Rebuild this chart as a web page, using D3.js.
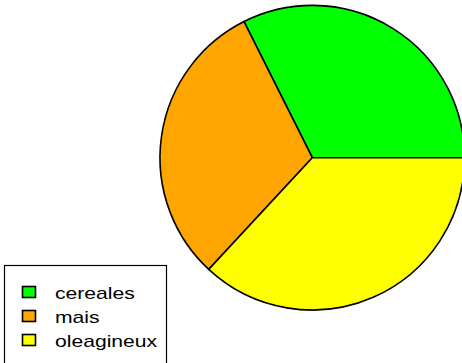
<!DOCTYPE html>
<html>
<head>
<meta charset="utf-8">
<script src="https://cdn.jsdelivr.net/npm/d3@7"></script>
<style>
  html, body { margin: 0; padding: 0; background: #fff; }
  svg { display: block; }
</style>
</head>
<body>
<div id="chart"></div>
<script>
// parts of the pie
const categories = ["cereales", "mais", "oleagineux"];
const values = [32.4, 30.7, 36.9];
const sliceColors = ["#00ff00", "#ffa500", "#ffff00"];

(() => {
    const width = 462, height = 363;
    const cx = 312.3, cy = 157.7, radius = 152.3;

    const data = categories.map((c, i) => ({ name: c, value: values[i] }));

    const color = d3.scaleOrdinal()
        .domain(categories)
        .range(sliceColors);

    const svg = d3.select("#chart")
        .append("svg")
        .attr("width", width)
        .attr("height", height);

    // pie goes counter-clockwise, starting at 3 o'clock
    const pie = d3.pie()
        .sort(null)
        .value(d => d.value)
        .startAngle(Math.PI / 2)
        .endAngle(Math.PI / 2 - 2 * Math.PI);

    const arc = d3.arc()
        .innerRadius(0)
        .outerRadius(radius);

    const g = svg.append("g")
        .attr("transform", `translate(${cx}, ${cy})`);

    g.selectAll("path")
        .data(pie(data))
        .enter()
        .append("path")
        .attr("d", arc)
        .attr("fill", d => color(d.data.name))
        .attr("stroke", "#000")
        .attr("stroke-width", 1.6)
        .attr("stroke-linejoin", "round");

    // legend
    const legend = svg.append("g");

    legend.append("rect")
        .attr("x", 4.5)
        .attr("y", 265.5)
        .attr("width", 162)
        .attr("height", 120)
        .attr("fill", "#fff")
        .attr("stroke", "#000")
        .attr("stroke-width", 1.2);

    const rowY = d3.scalePoint()
        .domain(categories)
        .range([292, 340]);

    legend.selectAll("rect.key")
        .data(data)
        .enter()
        .append("rect")
        .attr("class", "key")
        .attr("x", 22.5)
        .attr("y", d => rowY(d.name) - 5.5)
        .attr("width", 13)
        .attr("height", 11)
        .attr("fill", d => color(d.name))
        .attr("stroke", "#000")
        .attr("stroke-width", 1.6);

    legend.selectAll("text")
        .data(data)
        .enter()
        .append("text")
        .attr("transform", d => `translate(55, ${rowY(d.name) + 7}) scale(1.32, 1)`)
        .style("font-family", "'Liberation Sans', Arial, sans-serif")
        .style("font-size", "16px")
        .attr("fill", "#000")
        .text(d => d.name);
})();
</script>
</body>
</html>
